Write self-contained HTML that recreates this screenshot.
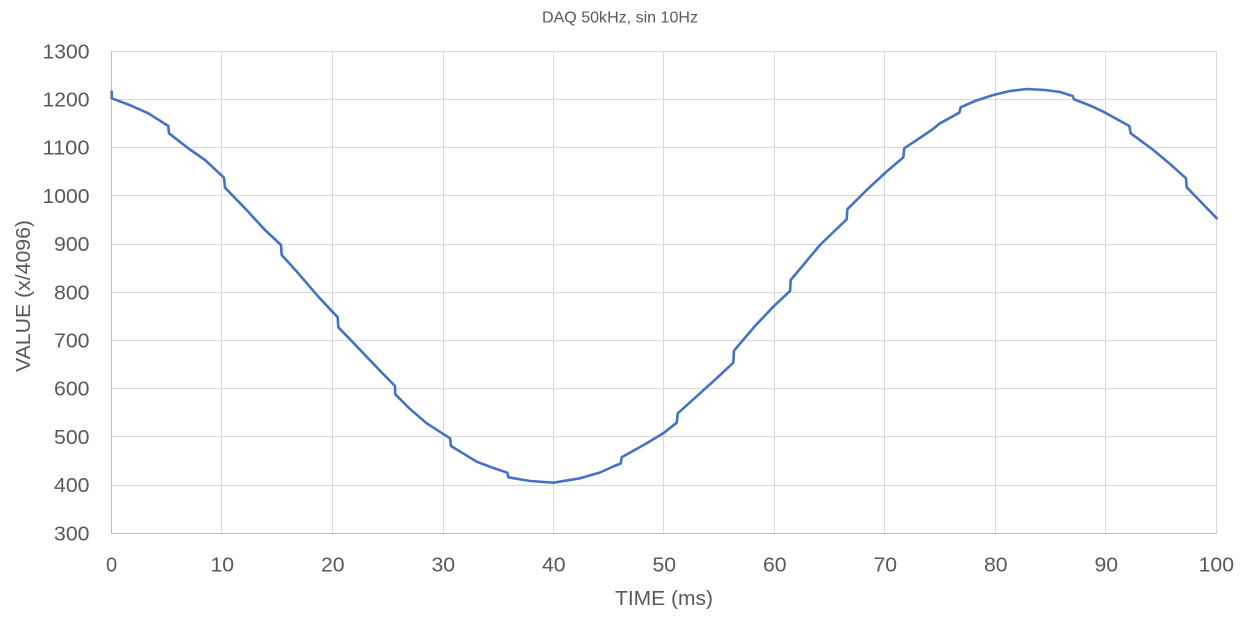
<!DOCTYPE html>
<html>
<head>
<meta charset="utf-8">
<style>
  html,body{margin:0;padding:0;background:#fff;}
  svg{display:block;}
  text{font-family:"Liberation Sans", sans-serif; fill:#595959;}
</style>
</head>
<body>
<svg width="1241" height="618" viewBox="0 0 1241 618" xmlns="http://www.w3.org/2000/svg">
  <rect x="0" y="0" width="1241" height="618" fill="#fff"/>
  <!-- horizontal gridlines -->
  <g stroke="#d9d9d9" stroke-width="1" shape-rendering="crispEdges">
    <line x1="111" y1="51.5" x2="1217" y2="51.5"/>
    <line x1="111" y1="99.5" x2="1217" y2="99.5"/>
    <line x1="111" y1="147.5" x2="1217" y2="147.5"/>
    <line x1="111" y1="195.5" x2="1217" y2="195.5"/>
    <line x1="111" y1="244.5" x2="1217" y2="244.5"/>
    <line x1="111" y1="292.5" x2="1217" y2="292.5"/>
    <line x1="111" y1="340.5" x2="1217" y2="340.5"/>
    <line x1="111" y1="388.5" x2="1217" y2="388.5"/>
    <line x1="111" y1="436.5" x2="1217" y2="436.5"/>
    <line x1="111" y1="485.5" x2="1217" y2="485.5"/>
    <!-- vertical gridlines -->
    <line x1="221.5" y1="51" x2="221.5" y2="533"/>
    <line x1="332.5" y1="51" x2="332.5" y2="533"/>
    <line x1="443.5" y1="51" x2="443.5" y2="533"/>
    <line x1="553.5" y1="51" x2="553.5" y2="533"/>
    <line x1="663.5" y1="51" x2="663.5" y2="533"/>
    <line x1="774.5" y1="51" x2="774.5" y2="533"/>
    <line x1="884.5" y1="51" x2="884.5" y2="533"/>
    <line x1="995.5" y1="51" x2="995.5" y2="533"/>
    <line x1="1105.5" y1="51" x2="1105.5" y2="533"/>
    <line x1="1216.5" y1="51" x2="1216.5" y2="533"/>
  </g>
  <!-- axes -->
  <g stroke="#bfbfbf" stroke-width="1" shape-rendering="crispEdges">
    <line x1="111.5" y1="51" x2="111.5" y2="534"/>
    <line x1="111" y1="533.5" x2="1217" y2="533.5"/>
  </g>

  <!-- series -->
  <path fill="none" stroke="#4472C4" stroke-width="2.6" stroke-linejoin="round" stroke-linecap="round"
    d="M111.7 91.7 L111.7 98.3 L130 105.2 L148.3 113.3 L168.3 126 L169 133.3
       L188.3 148.3 L205 160 L224 177.7 L225 187.7
       L245 208.3 L265 230 L281 245 L281.7 255
       L298.3 273.3 L318.3 296.7 L337.7 317.3 L338.3 327.3
       L350 339.3 L380 370.7 L395 386 L395.3 394.3
       L410 409 L426.7 423.3 L450 438.3 L451 446
       L476.7 461.7 L492 467.5 L507.3 472.7 L508.3 477.3
       L530 481 L553.3 482.7 L580 478.3 L600 472.5 L613.3 466.5 L620.7 463.5 L621.7 457.3
       L646.7 443.3 L663.3 433.3 L676.7 422.7 L677.8 413.3
       L700 393.3 L718 377 L733.3 362.7 L734 350.7
       L755 326 L773.3 306.7 L790 291 L790.7 280
       L820 245 L846.7 219.3 L847.3 209.3
       L866.7 190 L885 173 L903.3 157.3 L904.3 148.3
       L931.7 130 L940 123.3 L959.3 112.7 L960.7 107.3
       L975 101 L993.3 95 L1010 91 L1026.7 89 L1045 90 L1060 92 L1072.7 96 L1074 99.3
       L1090 105.5 L1103.3 111.7 L1129.3 126 L1130.7 133.3
       L1153.3 150 L1170 164 L1186 178.3 L1186.7 187.3
       L1200 201 L1216.7 218.3"/>

  <!-- title -->
  <text x="620" y="22.7" font-size="16" text-anchor="middle" textLength="156" lengthAdjust="spacingAndGlyphs">DAQ 50kHz, sin 10Hz</text>

  <!-- y tick labels -->
  <g font-size="20" text-anchor="end">
    <text x="89.5" y="58.3" textLength="47" lengthAdjust="spacingAndGlyphs">1300</text>
    <text x="89.5" y="106.5" textLength="47" lengthAdjust="spacingAndGlyphs">1200</text>
    <text x="89.5" y="154.7" textLength="47" lengthAdjust="spacingAndGlyphs">1100</text>
    <text x="89.5" y="202.9" textLength="47" lengthAdjust="spacingAndGlyphs">1000</text>
    <text x="89.5" y="251.1" textLength="35.5" lengthAdjust="spacingAndGlyphs">900</text>
    <text x="89.5" y="299.3" textLength="35.5" lengthAdjust="spacingAndGlyphs">800</text>
    <text x="89.5" y="347.5" textLength="35.5" lengthAdjust="spacingAndGlyphs">700</text>
    <text x="89.5" y="395.7" textLength="35.5" lengthAdjust="spacingAndGlyphs">600</text>
    <text x="89.5" y="443.9" textLength="35.5" lengthAdjust="spacingAndGlyphs">500</text>
    <text x="89.5" y="492.1" textLength="35.5" lengthAdjust="spacingAndGlyphs">400</text>
    <text x="89.5" y="540.3" textLength="35.5" lengthAdjust="spacingAndGlyphs">300</text>
  </g>

  <!-- x tick labels -->
  <g font-size="20" text-anchor="middle">
    <text x="111.5" y="571.7">0</text>
    <text x="222.3" y="571.7" textLength="23.6" lengthAdjust="spacingAndGlyphs">10</text>
    <text x="332.8" y="571.7" textLength="23.6" lengthAdjust="spacingAndGlyphs">20</text>
    <text x="443.3" y="571.7" textLength="23.6" lengthAdjust="spacingAndGlyphs">30</text>
    <text x="553.8" y="571.7" textLength="23.6" lengthAdjust="spacingAndGlyphs">40</text>
    <text x="664.3" y="571.7" textLength="23.6" lengthAdjust="spacingAndGlyphs">50</text>
    <text x="774.8" y="571.7" textLength="23.6" lengthAdjust="spacingAndGlyphs">60</text>
    <text x="885.3" y="571.7" textLength="23.6" lengthAdjust="spacingAndGlyphs">70</text>
    <text x="995.8" y="571.7" textLength="23.6" lengthAdjust="spacingAndGlyphs">80</text>
    <text x="1106.3" y="571.7" textLength="23.6" lengthAdjust="spacingAndGlyphs">90</text>
    <text x="1216.3" y="571.7" textLength="35.4" lengthAdjust="spacingAndGlyphs">100</text>
  </g>

  <!-- axis titles -->
  <text x="664" y="605" font-size="20" text-anchor="middle" textLength="98" lengthAdjust="spacingAndGlyphs">TIME (ms)</text>
  <text transform="translate(30,296) rotate(-90)" x="0" y="0" font-size="20" text-anchor="middle" textLength="152" lengthAdjust="spacingAndGlyphs">VALUE (x/4096)</text>
</svg>
</body>
</html>
